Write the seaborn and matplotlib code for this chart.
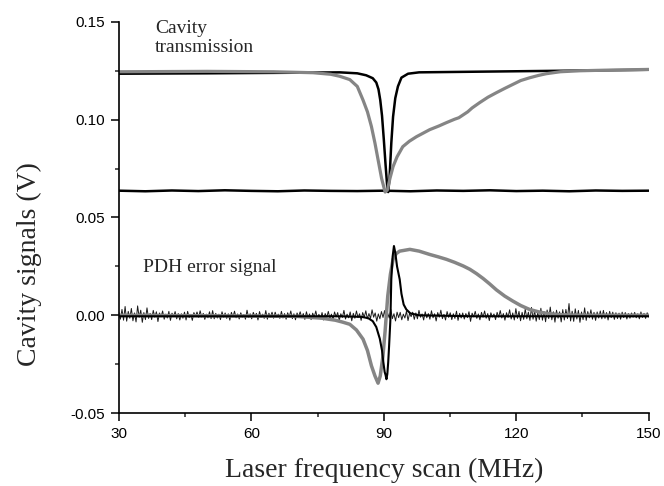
import matplotlib
matplotlib.use("Agg")
import matplotlib.pyplot as plt
import seaborn as sns
import numpy as np
import pandas as pd
from matplotlib.ticker import MultipleLocator, FormatStrFormatter

# --- data (MHz, V) ---
trans_black_x = [30, 50, 70, 80, 84, 86, 87.5, 88.3, 88.8, 89.2, 89.6, 90.0, 90.4, 90.8, 91.0,
                 91.3, 91.7, 92.1, 92.6, 93.2, 94.0, 95.5, 98, 110, 130, 150]
trans_black_y = [0.1235, 0.1237, 0.124, 0.1242, 0.1237, 0.1227, 0.1212, 0.119, 0.1155, 0.110, 0.102,
                 0.090, 0.077, 0.065, 0.063, 0.070, 0.088, 0.1015, 0.111, 0.117, 0.1215, 0.1235,
                 0.1242, 0.1245, 0.125, 0.1255]

trans_grey_x = [30, 50, 65, 74, 78, 80, 82.3, 84, 85.3, 86.3, 87.2, 88.0, 88.7, 89.5, 90.3, 90.8,
                91.4, 92.1, 93.0, 94.3, 95.8, 97.4, 100.4, 102.5, 104.2, 106, 107, 108, 109, 110,
                111.7, 113.6, 115.5, 117.4, 119.2, 121, 123, 125, 126.8, 130, 134.4, 140, 150]
trans_grey_y = [0.1245, 0.1247, 0.1245, 0.124, 0.1232, 0.1222, 0.1205, 0.117, 0.110, 0.104, 0.0965,
                0.088, 0.0796, 0.070, 0.063, 0.064, 0.070, 0.076, 0.081, 0.0862, 0.089, 0.0913,
                0.0949, 0.0968, 0.0985, 0.1002, 0.101, 0.1025, 0.104, 0.106, 0.1087, 0.1115,
                0.1138, 0.116, 0.118, 0.120, 0.1214, 0.1226, 0.1235, 0.1245, 0.125, 0.1253, 0.1257]

base_x = [30, 36, 42, 48, 54, 60, 66, 72, 78, 84, 90, 96, 102, 108, 114, 120, 126, 132, 138, 144, 150]
base_y = [0.0637, 0.0634, 0.0638, 0.0635, 0.0639, 0.0636, 0.0634, 0.0638, 0.0636, 0.0635, 0.0637,
          0.0634, 0.0638, 0.0636, 0.0639, 0.0635, 0.0637, 0.0634, 0.0638, 0.0636, 0.0637]

pdh_black_x = [30, 80, 85, 86.5, 87.5, 88.3, 89.1, 89.6, 89.9, 90.2, 90.4, 90.6, 90.8, 91.0, 91.2,
               91.5, 91.7, 92.0, 92.3, 92.6, 93.0, 93.6, 94.0, 94.5, 95.1, 96, 98, 110, 150]
pdh_black_y = [-0.0005, -0.0005, -0.0008, -0.0015, -0.003, -0.006, -0.012, -0.018, -0.024, -0.029,
               -0.0305, -0.0327, -0.030, -0.024, -0.0157, -0.002, 0.0184, 0.030, 0.0354, 0.032,
               0.025, 0.0184, 0.011, 0.0055, 0.003, 0.001, 0.0, -0.0005, -0.0005]

pdh_grey_x = [30, 70, 76, 79, 80.7, 82.3, 83.8, 85.3, 86.3, 87.2, 88.0, 88.7, 89.2, 89.8, 90.3,
              90.9, 91.5, 92.1, 92.8, 93.6, 95.9, 98, 100.4, 102.3, 104.2, 106, 108, 109.5, 111,
              112.5, 114, 115.5, 117.4, 119.2, 121, 123, 125, 126.8, 130, 135, 150]
pdh_grey_y = [0.0, -0.0005, -0.0015, -0.0025, -0.0035, -0.0046, -0.0075, -0.0122, -0.018, -0.0258,
              -0.031, -0.0347, -0.031, -0.021, -0.008, 0.0099, 0.021, 0.0286, 0.0315, 0.0328,
              0.0337, 0.0328, 0.0311, 0.0299, 0.0286, 0.0271, 0.0252, 0.0235, 0.0213, 0.0188,
              0.016, 0.013, 0.0098, 0.0073, 0.005, 0.003, 0.0018, 0.001, 0.0003, 0.0, 0.0]

# noisy zero trace, in mV, evenly sampled over the scan
pdh_noise_mv = [
    1.5, -2.0, 3.0, -2.5, 4.5, -3.0, 2.0, -1.5, 3.5, -2.8, 1.2, -3.4, 4.8, -1.0, 2.6, -3.6, 1.4, -2.2, 3.8, -1.6,
    1.0, -2.2, 2.5, -1.0, 1.8, -3.2, 1.2, -0.8, 2.2, -2.0, 0.6, -1.4, 2.0, -2.6, 1.1, -0.7, 1.9, -1.8, 0.9, -2.4,
    0.8, -1.5, 1.6, -2.4, 2.0, -1.2, 0.5, -2.6, 1.4, -0.6, 1.7, -1.1, 2.3, -0.9, 1.0, -2.1, 0.6, -1.3, 1.8, -1.7,
    2.4, -1.8, 1.0, -1.4, 0.6, -2.2, 1.8, -1.0, 1.2, -1.6, 0.8, -2.5, 1.5, -0.8, 2.1, -1.3, 0.7, -1.9, 1.3, -1.0,
    0.4, -2.0, 2.6, -1.2, 0.8, -1.8, 1.5, -0.6, 1.0, -2.4, 1.9, -1.1, 0.6, -1.6, 2.4, -2.0, 1.1, -0.9, 1.6, -1.5,
    1.6, -1.0, 0.6, -1.6, 2.0, -1.4, 0.9, -2.0, 1.3, -0.8, 2.2, -1.7, 0.8, -2.3, 1.2, -0.7, 1.8, -1.2, 0.9, -2.1,
    1.8, -1.2, 0.7, -2.2, 1.1, -0.9, 2.2, -1.5, 0.5, -1.7, 1.4, -2.4, 0.9, -1.0, 2.0, -1.6, 0.6, -2.2, 1.7, -0.8,
    1.4, -2.6, 0.8, -1.1, 2.5, -1.9, 0.6, -1.3, 1.7, -2.8, 1.0, -1.5, 2.2, -1.2, 0.8, -2.6, 1.4, -1.0, 2.3, -1.8,
    0.9, -1.6, 2.8, -1.0, 1.2, -3.0, 0.7, -1.8, 1.9, -1.1, 2.4, -2.2, 1.0, -1.4, 3.0, -1.7, 0.8, -2.9, 1.6, -1.2,
    1.5, -2.3, 0.6, -1.4, 2.1, -2.7, 1.0, -0.7, 1.6, -2.1, 1.2, -1.8, 2.5, -1.0, 0.7, -2.4, 1.8, -1.3, 0.9, -2.0,
    2.3, -1.3, 0.8, -2.9, 1.4, -1.0, 2.6, -1.7, 0.5, -2.4, 1.9, -1.1, 1.3, -2.2, 0.8, -1.6, 2.1, -2.6, 1.0, -1.4,
    1.2, -1.9, 0.9, -1.2, 1.8, -3.1, 1.1, -0.8, 2.0, -1.6, 0.7, -2.3, 1.5, -1.0, 2.2, -1.5, 0.9, -2.7, 1.3, -0.9,
    0.7, -2.2, 1.5, -1.0, 2.4, -1.4, 0.9, -2.5, 1.3, -1.1, 2.8, -1.9, 1.2, -2.4, 3.4, -1.6, 2.0, -2.8, 1.5, -2.1,
    3.2, -1.8, 1.6, -2.6, 4.0, -2.0, 2.2, -3.0, 1.4, -2.2, 3.6, -2.5, 1.9, -3.3, 2.7, -1.7, 4.2, -2.3, 1.8, -3.5,
    2.6, -1.5, 1.8, -3.4, 2.9, -2.4, 3.0, -1.7, 6.0, -2.9, 2.1, -3.1, 3.3, -1.9, 2.5, -3.6, 1.7, -2.2, 3.8, -2.6,
    1.9, -1.3, 2.8, -2.0, 1.5, -2.6, 1.7, -1.4, 2.2, -1.8, 2.5, -1.6, 1.4, -2.4, 2.0, -1.2, 1.6, -2.1, 1.3, -1.7,
    1.1, -2.0, 1.6, -1.2, 1.4, -1.9, 0.9, -1.5, 1.2, -1.0, 1.5, -1.3, 0.8, -1.8, 1.7, -1.1, 1.0, -1.6, 1.3, -0.9,
]
noise_x = np.linspace(30, 150, len(pdh_noise_mv))
noise_y = np.array(pdh_noise_mv) / 1000.0

x_ticks = [30, 60, 90, 120, 150]
y_ticks = [-0.05, 0.00, 0.05, 0.10, 0.15]

sns.set_style("ticks")
plt.rcParams['font.family'] = ['Liberation Sans', 'DejaVu Sans']
plt.rcParams['axes.unicode_minus'] = False

fig = plt.figure(figsize=(6.64, 4.86), dpi=100)
ax = fig.add_axes([0.179, 0.150, 0.798, 0.805])

grey = "#858585"
kw = dict(ax=ax, sort=False, estimator=None, legend=False)
sns.lineplot(x=noise_x, y=noise_y, color="#1a1a1a", lw=0.7, **kw)
sns.lineplot(x=pdh_grey_x, y=pdh_grey_y, color=grey, lw=2.5, **kw)
sns.lineplot(x=pdh_black_x, y=pdh_black_y, color="black", lw=1.5, **kw)
sns.lineplot(x=base_x, y=base_y, color="black", lw=1.8, **kw)
sns.lineplot(x=trans_black_x, y=trans_black_y, color="black", lw=1.8, **kw)
sns.lineplot(x=trans_grey_x, y=trans_grey_y, color=grey, lw=2.3, **kw)

ax.set_xlim(30, 150)
ax.set_ylim(-0.05, 0.15)
ax.set_xticks(x_ticks)
ax.set_yticks(y_ticks)
ax.xaxis.set_minor_locator(MultipleLocator(15))
ax.yaxis.set_minor_locator(MultipleLocator(0.025))
ax.yaxis.set_major_formatter(FormatStrFormatter('%.2f'))
ax.tick_params(which='major', direction='out', length=6, width=1.1, labelsize=11,
               colors='black', pad=4)
ax.tick_params(which='minor', direction='out', length=3, width=1.1)
sns.despine(ax=ax)
for s in ['left', 'bottom']:
    ax.spines[s].set_linewidth(1.2)
    ax.spines[s].set_color('black')

ax.set_xlabel("Laser frequency scan (MHz)", family=['Liberation Serif'], fontsize=20)
ax.set_ylabel("Cavity signals (V)", family=['Liberation Serif'], fontsize=20)
ax.xaxis.set_label_coords(0.5, -0.115)
ax.yaxis.set_label_coords(-0.145, 0.381)

ax.text(38.2, 0.151, "Cavity\ntransmission", family=['Liberation Serif'], fontsize=14,
        va='top', ha='left', linespacing=1.15)
ax.text(35.4, 0.0219, "PDH error signal", family=['Liberation Serif'], fontsize=14,
        va='baseline', ha='left')

fig.savefig("out.png", dpi=100)
